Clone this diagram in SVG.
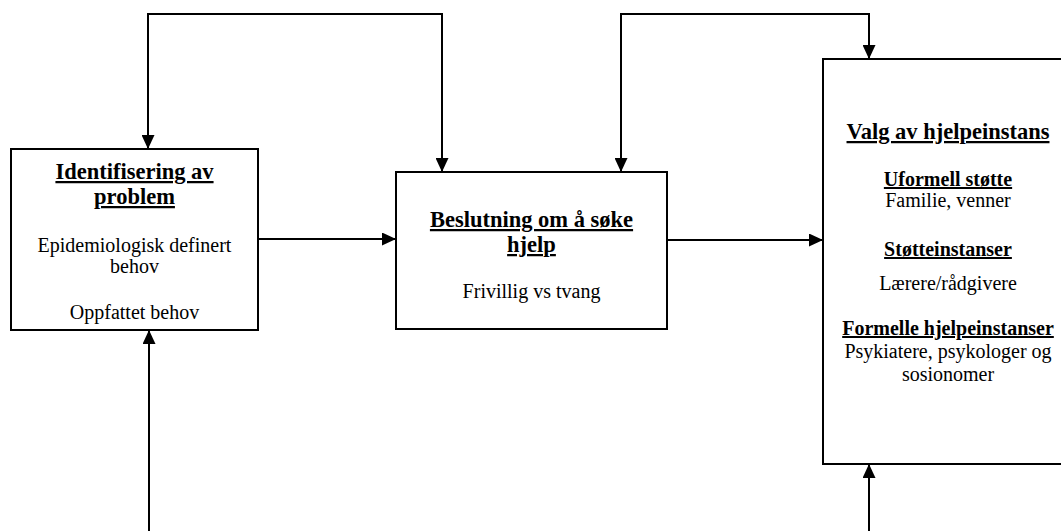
<svg xmlns="http://www.w3.org/2000/svg" width="1061" height="531" viewBox="0 0 1061 531">
<style>
  .box { fill: #fff; stroke: #000; stroke-width: 2; }
  .conn { fill: none; stroke: #000; stroke-width: 2; }
  text { font-family: "Liberation Serif", "Times New Roman", serif; fill: #000; text-anchor: middle; }
  .title { font-size: 22.5px; font-weight: bold; text-decoration: underline; }
  .sub { font-size: 20px; font-weight: bold; text-decoration: underline; }
  .body { font-size: 20px; }
</style>
<defs>
  <marker id="arrow" viewBox="0 0 14 13" refX="14" refY="6.5" markerWidth="14" markerHeight="13" markerUnits="userSpaceOnUse" orient="auto-start-reverse">
    <path d="M0,0 L14,6.5 L0,13 z" fill="#000"/>
  </marker>
</defs>
<rect width="1061" height="531" fill="#fff"/>
<g id="connectors">
  <path class="conn" d="M148,149 V14 H442 V172" marker-start="url(#arrow)" marker-end="url(#arrow)"/>
  <path class="conn" d="M621,172 V14 H869 V59" marker-start="url(#arrow)" marker-end="url(#arrow)"/>
  <path class="conn" d="M149,531 V330" marker-end="url(#arrow)"/>
  <path class="conn" d="M869,531 V464" marker-end="url(#arrow)"/>
  <path class="conn" d="M258,239 H396" marker-end="url(#arrow)"/>
  <path class="conn" d="M667,240 H823" marker-end="url(#arrow)"/>
</g>
<g id="node-identifisering">
  <rect class="box" x="11" y="149" width="247" height="181"/>
  <text class="title" x="134.5" y="179">Identifisering av</text>
  <text class="title" x="134.5" y="204">problem</text>
  <text class="body" x="134.5" y="252">Epidemiologisk definert</text>
  <text class="body" x="134.5" y="273">behov</text>
  <text class="body" x="134.5" y="319">Oppfattet behov</text>
</g>
<g id="node-beslutning">
  <rect class="box" x="396" y="172" width="271" height="157"/>
  <text class="title" x="531.5" y="227">Beslutning om å søke</text>
  <text class="title" x="531.5" y="252">hjelp</text>
  <text class="body" x="531.5" y="298">Frivillig vs tvang</text>
</g>
<g id="node-valg">
  <rect class="box" x="823" y="59" width="250" height="405"/>
  <text class="title" x="948" y="139">Valg av hjelpeinstans</text>
  <text class="sub" x="948" y="186">Uformell støtte</text>
  <text class="body" x="948" y="207">Familie, venner</text>
  <text class="sub" x="948" y="256">Støtteinstanser</text>
  <text class="body" x="948" y="290">Lærere/rådgivere</text>
  <text class="sub" x="948" y="335">Formelle hjelpeinstanser</text>
  <text class="body" x="948" y="358">Psykiatere, psykologer og</text>
  <text class="body" x="948" y="381">sosionomer</text>
</g>
</svg>
